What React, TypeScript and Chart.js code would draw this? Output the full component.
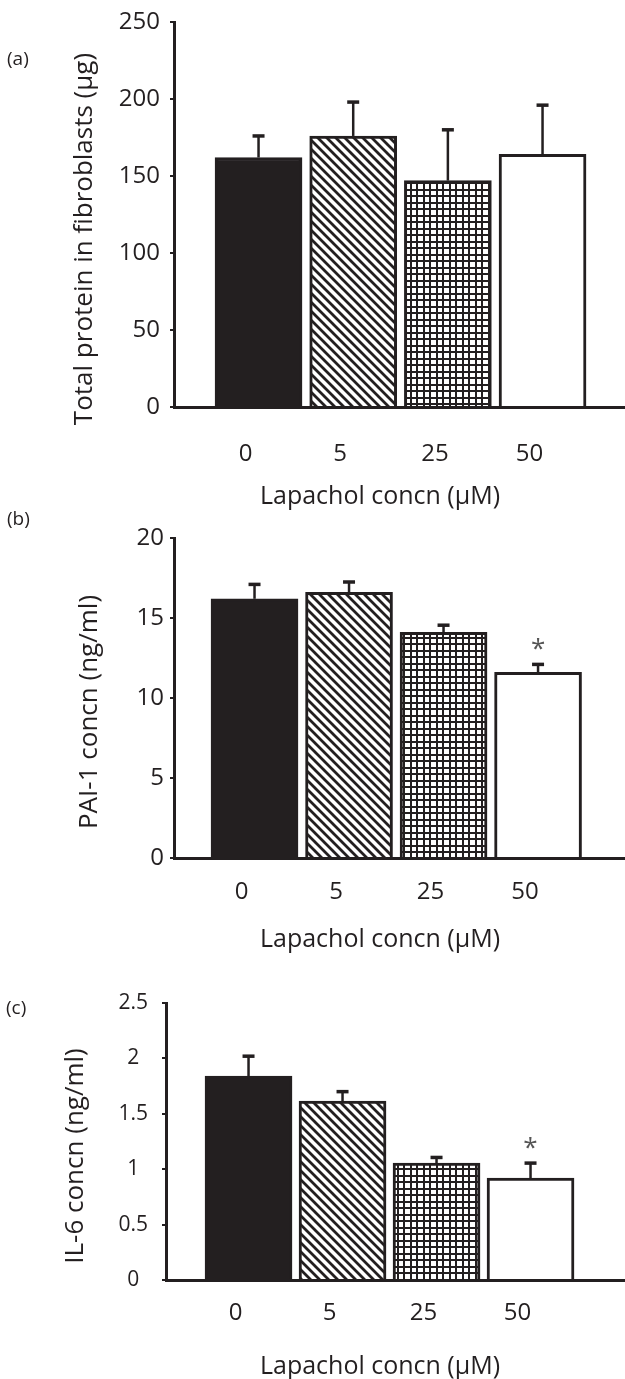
import React, { useEffect, useRef } from 'react';
import { Chart, registerables } from 'chart.js';

Chart.register(...registerables);

// ---------- data ----------
const categories = ['0', '5', '25', '50'];

const proteinValues = [162, 176, 147, 164];
const proteinErrors = [14, 22, 33, 32];
const proteinTicks = [0, 50, 100, 150, 200, 250];

const pai1Values = [16.2, 16.6, 14.1, 11.6];
const pai1Errors = [0.9, 0.65, 0.45, 0.5];
const pai1Ticks = [0, 5, 10, 15, 20];
const pai1Marks = ['', '', '', '*'];

const il6Values = [1.84, 1.615, 1.056, 0.92];
const il6Errors = [0.18, 0.085, 0.05, 0.135];
const il6Ticks = [0, 0.5, 1, 1.5, 2, 2.5];
const il6Marks = ['', '', '', '*'];

const xTitle = 'Lapachol concn (μM)';
const proteinTitle = 'Total protein in fibroblasts (μg)';
const pai1Title = 'PAI-1 concn (ng/ml)';
const il6Title = 'IL-6 concn (ng/ml)';

// ---------- styling ----------
const INK = '#231f20';
const FONT = "'Open Sans', 'DejaVu Sans', sans-serif";

function makeDiagonal(): CanvasPattern | string {
  const s = 9;
  const c = document.createElement('canvas');
  c.width = s;
  c.height = s;
  const g = c.getContext('2d');
  if (!g) return '#888';
  g.fillStyle = '#ffffff';
  g.fillRect(0, 0, s, s);
  g.strokeStyle = INK;
  g.lineWidth = 2.8;
  g.beginPath();
  g.moveTo(-2, -2);
  g.lineTo(s + 2, s + 2);
  g.moveTo(-2, s - 2);
  g.lineTo(2, s + 2);
  g.moveTo(s - 2, -2);
  g.lineTo(s + 2, 2);
  g.stroke();
  return g.createPattern(c, 'repeat') || '#888';
}

function makeGrid(): CanvasPattern | string {
  const c = document.createElement('canvas');
  c.width = 13;
  c.height = 13;
  const g = c.getContext('2d');
  if (!g) return '#888';
  g.fillStyle = '#ffffff';
  g.fillRect(0, 0, 13, 13);
  g.fillStyle = INK;
  g.fillRect(0, 0, 2, 13);
  g.fillRect(7, 0, 2, 13);
  g.fillRect(0, 0, 13, 2);
  g.fillRect(0, 7, 13, 2);
  return g.createPattern(c, 'repeat') || '#888';
}

type PanelCfg = {
  label: string;
  yTitle: string;
  values: number[];
  errors: number[];
  marks: string[];
  yTicks: number[];
  top: number;
  height: number;
  padTop: number;
  left: number;
  xAxisHeight: number;
  xMin: number;
  xMax: number;
  yTickFont: number;
  yTickPad: number;
  crossAlign: 'near' | 'center' | 'far';
  xTickPad: number;
  yTitlePos: [number, number];
  xTitlePos: [number, number];
  labelPos: [number, number];
};

const panels: PanelCfg[] = [
  {
    label: '(a)', yTitle: proteinTitle, values: proteinValues, errors: proteinErrors, marks: ['', '', '', ''],
    yTicks: proteinTicks, top: 0, height: 520, padTop: 20, left: 174, xAxisHeight: 113,
    xMin: 0.107, xMax: 4.871, yTickFont: 24, yTickPad: 10, crossAlign: 'near', xTickPad: 35,
    yTitlePos: [85, 239], xTitlePos: [380, 497], labelPos: [7, 60],
  },
  {
    label: '(b)', yTitle: pai1Title, values: pai1Values, errors: pai1Errors, marks: pai1Marks,
    yTicks: pai1Ticks, top: 500, height: 460, padTop: 38, left: 174, xAxisHeight: 102,
    xMin: 0.148, xMax: 4.92, yTickFont: 24, yTickPad: 6, crossAlign: 'near', xTickPad: 22,
    yTitlePos: [90, 212], xTitlePos: [380, 440], labelPos: [7, 20],
  },
  {
    label: '(c)', yTitle: il6Title, values: il6Values, errors: il6Errors, marks: il6Marks,
    yTicks: il6Ticks, top: 960, height: 419, padTop: 43, left: 166, xAxisHeight: 99,
    xMin: 0.122, xMax: 5.005, yTickFont: 21, yTickPad: 14, crossAlign: 'center', xTickPad: 21,
    yTitlePos: [76, 196], xTitlePos: [380, 407], labelPos: [6, 49],
  },
];

function makeOverlay(cfg: PanelCfg) {
  return {
    id: 'overlay',
    afterDatasetsDraw(chart: any) {
      const { ctx } = chart;
      const y = chart.scales.y;
      const meta = chart.getDatasetMeta(0);
      ctx.save();
      ctx.strokeStyle = INK;
      ctx.lineCap = 'butt';
      meta.data.forEach((bar: any, i: number) => {
        const v = cfg.values[i];
        const yTop = y.getPixelForValue(v + cfg.errors[i]);
        ctx.lineWidth = 2.5;
        ctx.beginPath();
        ctx.moveTo(bar.x, bar.y);
        ctx.lineTo(bar.x, yTop);
        ctx.stroke();
        ctx.lineWidth = 3.5;
        ctx.beginPath();
        ctx.moveTo(bar.x - 6, yTop);
        ctx.lineTo(bar.x + 6, yTop);
        ctx.stroke();
        if (cfg.marks[i]) {
          ctx.fillStyle = '#555';
          ctx.font = `26px ${FONT}`;
          ctx.textAlign = 'center';
          ctx.textBaseline = 'middle';
          ctx.fillText(cfg.marks[i], bar.x, yTop - 15);
        }
      });
      ctx.restore();
    },
    afterDraw(chart: any) {
      const { ctx } = chart;
      ctx.save();
      ctx.fillStyle = INK;
      ctx.textBaseline = 'middle';
      ctx.font = `19px ${FONT}`;
      ctx.textAlign = 'left';
      ctx.fillText(cfg.label, cfg.labelPos[0], cfg.labelPos[1]);
      ctx.font = `25px ${FONT}`;
      ctx.textAlign = 'center';
      ctx.fillText(xTitle, cfg.xTitlePos[0], cfg.xTitlePos[1]);
      ctx.translate(cfg.yTitlePos[0], cfg.yTitlePos[1]);
      ctx.rotate(-Math.PI / 2);
      ctx.font = `26px ${FONT}`;
      ctx.fillText(cfg.yTitle, 0, 0);
      ctx.restore();
    },
  };
}

function Panel({ cfg }: { cfg: PanelCfg }) {
  const ref = useRef<HTMLCanvasElement>(null);
  useEffect(() => {
    if (!ref.current) return;
    const fills = [INK, makeDiagonal(), makeGrid(), '#ffffff'];
    const chart = new Chart(ref.current, {
      type: 'bar',
      data: {
        datasets: [
          {
            data: cfg.values.map((v, i) => ({ x: i + 1, y: v })) as any,
            backgroundColor: fills as any,
            borderColor: INK,
            borderWidth: 3,
            barThickness: 87,
          },
        ],
      },
      options: {
        responsive: false,
        animation: false,
        devicePixelRatio: 1,
        layout: { padding: { top: cfg.padTop, left: 0, right: 0, bottom: 0 } },
        plugins: { legend: { display: false }, tooltip: { enabled: false } },
        scales: {
          x: {
            type: 'linear',
            min: cfg.xMin,
            max: cfg.xMax,
            offset: false,
            z: 1,
            grid: { display: false, drawTicks: false, offset: false },
            border: { display: true, width: 3, color: INK },
            afterBuildTicks: (s: any) => {
              s.ticks = categories.map((_, i) => ({ value: i + 1 }));
            },
            afterFit: (s: any) => {
              s.height = cfg.xAxisHeight;
            },
            ticks: {
              autoSkip: false,
              maxRotation: 0,
              minRotation: 0,
              padding: cfg.xTickPad,
              labelOffset: -13,
              color: INK,
              font: { family: FONT, size: 24, lineHeight: 1 },
              callback: (_v: any, i: number) => categories[i],
            },
          } as any,
          y: {
            type: 'linear',
            min: 0,
            max: cfg.yTicks[cfg.yTicks.length - 1],
            z: 1,
            grid: { display: true, drawOnChartArea: false, drawTicks: true, tickLength: 4, lineWidth: 2, color: INK },
            border: { display: true, width: 3, color: INK },
            afterBuildTicks: (s: any) => {
              s.ticks = cfg.yTicks.map((v) => ({ value: v }));
            },
            afterFit: (s: any) => {
              s.width = cfg.left;
            },
            ticks: {
              padding: cfg.yTickPad,
              crossAlign: cfg.crossAlign,
              color: INK,
              font: { family: FONT, size: cfg.yTickFont, lineHeight: 1 },
              callback: (v: any) => String(v),
            },
          } as any,
        },
      },
      plugins: [makeOverlay(cfg) as any],
    });
    return () => chart.destroy();
  }, [cfg]);
  return (
    <canvas
      ref={ref}
      width={625}
      height={cfg.height}
      style={{ position: 'absolute', left: 0, top: cfg.top, width: 625, height: cfg.height, display: 'block' }}
    />
  );
}

export default function App() {
  return (
    <div style={{ position: 'absolute', left: 0, top: 0, width: 625, height: 1379, background: '#ffffff', overflow: 'hidden' }}>
      {panels.map((p) => (
        <Panel key={p.label} cfg={p} />
      ))}
    </div>
  );
}
